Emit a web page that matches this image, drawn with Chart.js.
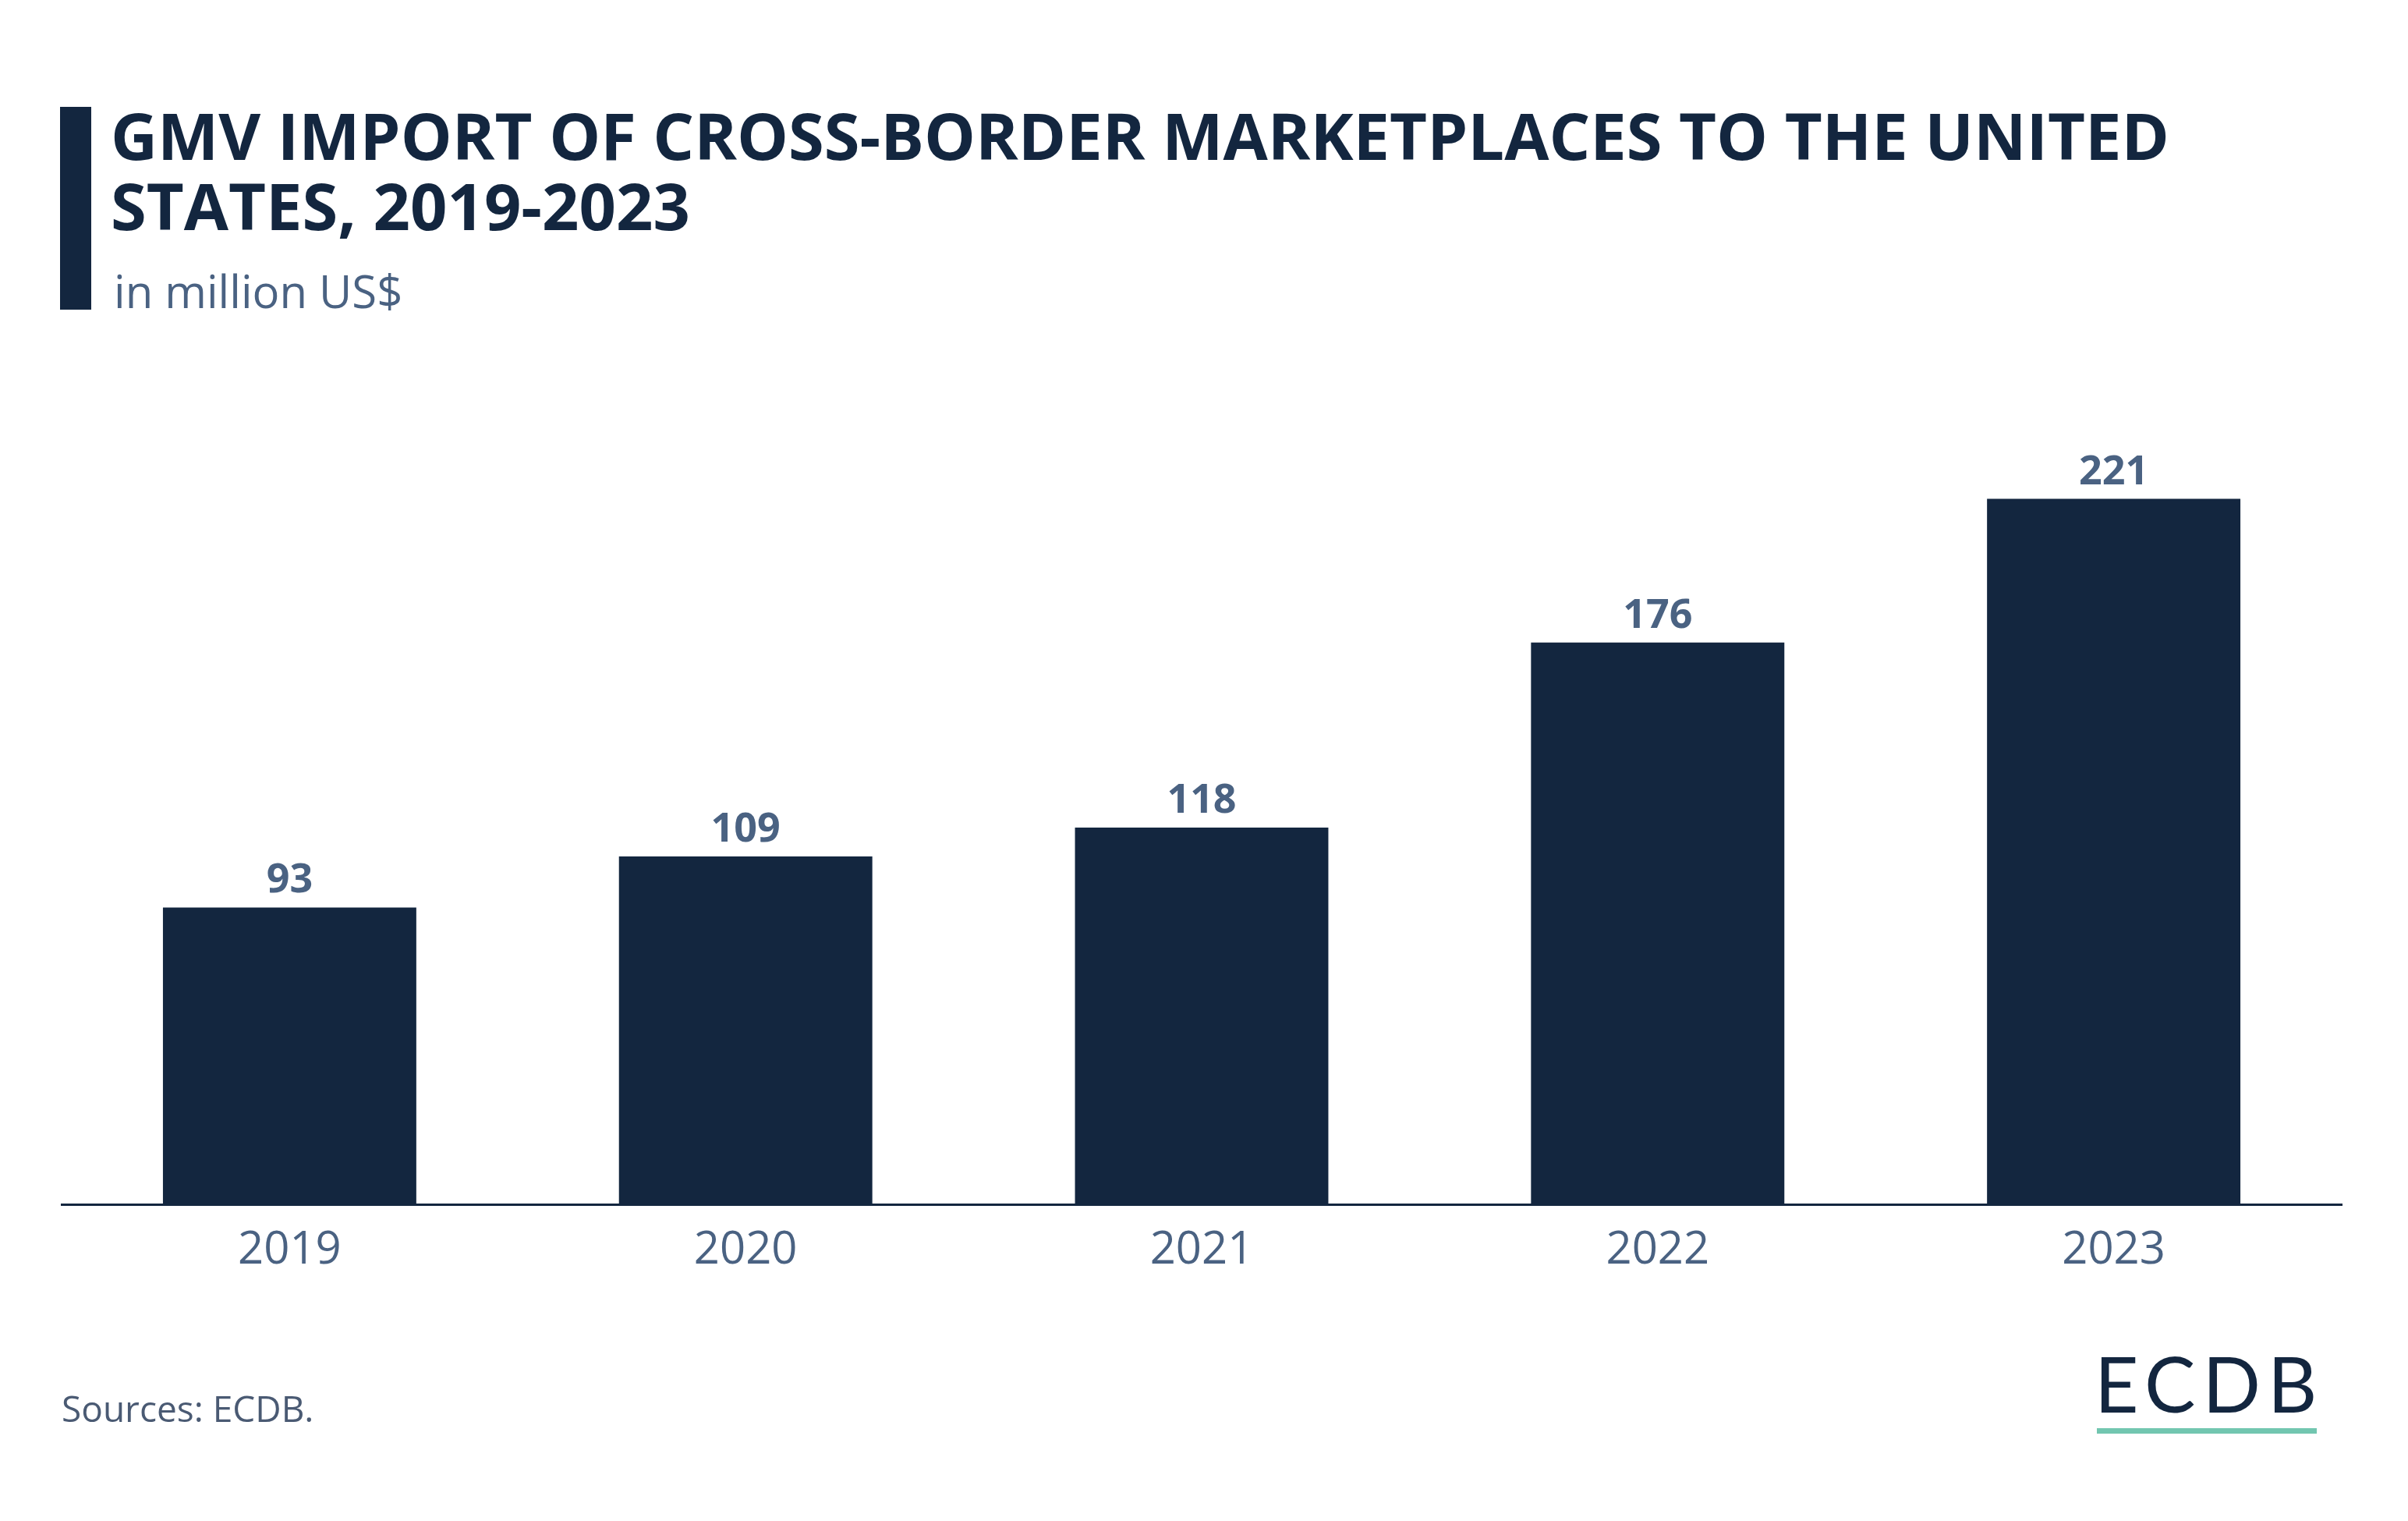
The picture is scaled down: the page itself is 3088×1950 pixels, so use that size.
<!DOCTYPE html>
<html>
<head>
<meta charset="utf-8">
<script src="https://cdn.jsdelivr.net/npm/chart.js@4"></script>
<style>
html,body{margin:0;padding:0;background:#fff;width:3088px;height:1950px;overflow:hidden;font-family:"Open Sans",sans-serif;}
#wrap{position:absolute;left:0;top:0;width:3088px;height:1950px;}
canvas{position:absolute;left:0;top:0;}
.bar{position:absolute;left:77px;top:137px;width:40px;height:260px;background:#13263f;}
.title{position:absolute;left:142px;top:128px;font-weight:700;font-size:83px;line-height:90px;color:#13263f;white-space:nowrap;}
.sub{position:absolute;left:146px;top:333px;font-size:58px;line-height:80px;color:#4a6282;white-space:nowrap;}
.src{position:absolute;left:79px;top:1774px;font-size:46px;color:#4a5a73;white-space:nowrap;}
.logo{position:absolute;left:2686px;top:1718px;font-family:"Lato",sans-serif;font-size:98px;font-weight:400;letter-spacing:9px;color:#13263f;line-height:110px;}
.logoline{position:absolute;left:2689px;top:1831px;width:282px;height:7px;background:#72c6b0;}
</style>
</head>
<body>
<div id="wrap">
<canvas id="c" width="3088" height="1950"></canvas>
<div class="bar"></div>
<div class="title">GMV IMPORT OF CROSS-BORDER MARKETPLACES TO THE UNITED<br>STATES, 2019-2023</div>
<div class="sub">in million US$</div>
<div class="src">Sources: ECDB.</div>
<div class="logo">ECDB</div>
<div class="logoline"></div>
</div>
<script>
const categories = ["2019", "2020", "2021", "2022", "2023"];
const gmvValues = [93, 109, 118, 176, 221];

const valueLabels = {
  id: 'valueLabels',
  afterDatasetsDraw(chart) {
    const ctx = chart.ctx;
    const meta = chart.getDatasetMeta(0);
    ctx.save();
    ctx.font = '700 52px "Open Sans"';
    ctx.fillStyle = '#4a6282';
    ctx.textAlign = 'center';
    ctx.textBaseline = 'alphabetic';
    meta.data.forEach((el, i) => {
      ctx.fillText(String(chart.data.datasets[0].data[i]), el.x, el.y - 19);
    });
    ctx.restore();
  }
};

new Chart(document.getElementById('c'), {
  type: 'bar',
  data: {
    labels: categories,
    datasets: [{
      data: gmvValues,
      backgroundColor: '#13263f',
      borderWidth: 0,
      categoryPercentage: 1,
      barPercentage: 0.5556
    }]
  },
  options: {
    responsive: false,
    animation: false,
    devicePixelRatio: 1,
    layout: { padding: { left: 79, right: 85, top: 480, bottom: 0 } },
    plugins: { legend: { display: false }, tooltip: { enabled: false }, title: { display: false } },
    scales: {
      x: {
        grid: { display: false, drawTicks: false },
        border: { display: true, color: '#13263f', width: 3 },
        ticks: { color: '#4a6282', font: { family: 'Open Sans', size: 58 }, padding: 25 },
        afterFit(s) { s.height = 1950 - 1544; }
      },
      y: {
        display: false,
        min: 0,
        max: 260
      }
    }
  },
  plugins: [valueLabels]
});
</script>
</body>
</html>
